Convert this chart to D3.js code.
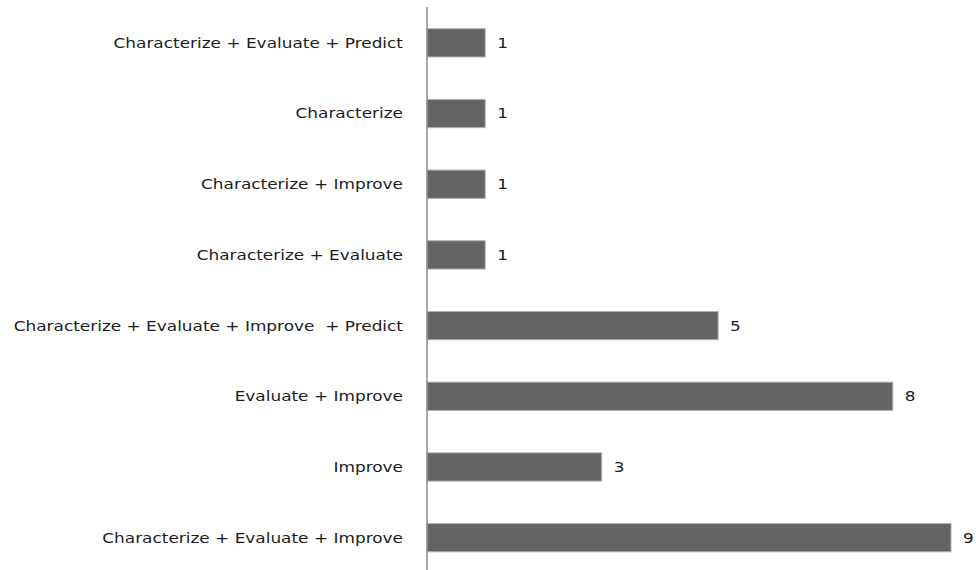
<!DOCTYPE html>
<html>
<head>
<meta charset="utf-8">
<script src="https://cdn.jsdelivr.net/npm/d3@7"></script>
<style>
  html, body { margin: 0; padding: 0; background: #fff; }
  svg { display: block; }
  text { font-family: "DejaVu Sans", Verdana, sans-serif; fill: #1c1c24; }
</style>
</head>
<body>
<svg id="chart" width="976" height="570"></svg>
<script>
// Combinations of activities, listed top to bottom
const categories = [
  "Characterize + Evaluate + Predict",
  "Characterize",
  "Characterize + Improve",
  "Characterize + Evaluate",
  "Characterize + Evaluate + Improve  + Predict",
  "Evaluate + Improve",
  "Improve",
  "Characterize + Evaluate + Improve"
];
const counts = [1, 1, 1, 1, 5, 8, 3, 9];

const svg = d3.select("#chart");
const axisX = 427;
const stretch = 1.21; // wide, Verdana-like lettering

const x = d3.scaleLinear().domain([0, 9]).range([axisX, 951]);
const y = d3.scaleBand()
  .domain(categories)
  .range([7.5, 573])
  .paddingInner(0.6)
  .paddingOuter(0.3);

// Bars
svg.append("g").selectAll("rect")
  .data(categories)
  .join("rect")
  .attr("x", x(0))
  .attr("y", d => y(d))
  .attr("width", (d, i) => x(counts[i]) - x(0))
  .attr("height", y.bandwidth())
  .attr("fill", "#646464")
  .attr("stroke", "#b0b0b0")
  .attr("stroke-width", 1);

// Vertical category axis line
svg.append("line")
  .attr("x1", axisX).attr("x2", axisX)
  .attr("y1", 7).attr("y2", 570)
  .attr("stroke", "#8c8c8c")
  .attr("stroke-width", 1.5);

// Category labels
svg.append("g").selectAll("text")
  .data(categories)
  .join("text")
  .attr("transform", d => `translate(403,${y(d) + y.bandwidth() / 2}) scale(${stretch},1)`)
  .attr("dy", "0.35em")
  .attr("text-anchor", "end")
  .attr("font-size", 14)
  .style("white-space", "pre")
  .text(d => d);

// Value labels
svg.append("g").selectAll("text")
  .data(categories)
  .join("text")
  .attr("transform", (d, i) => `translate(${x(counts[i]) + 12},${y(d) + y.bandwidth() / 2}) scale(${stretch},1)`)
  .attr("dy", "0.35em")
  .attr("font-size", 14)
  .text((d, i) => counts[i]);
</script>
</body>
</html>
